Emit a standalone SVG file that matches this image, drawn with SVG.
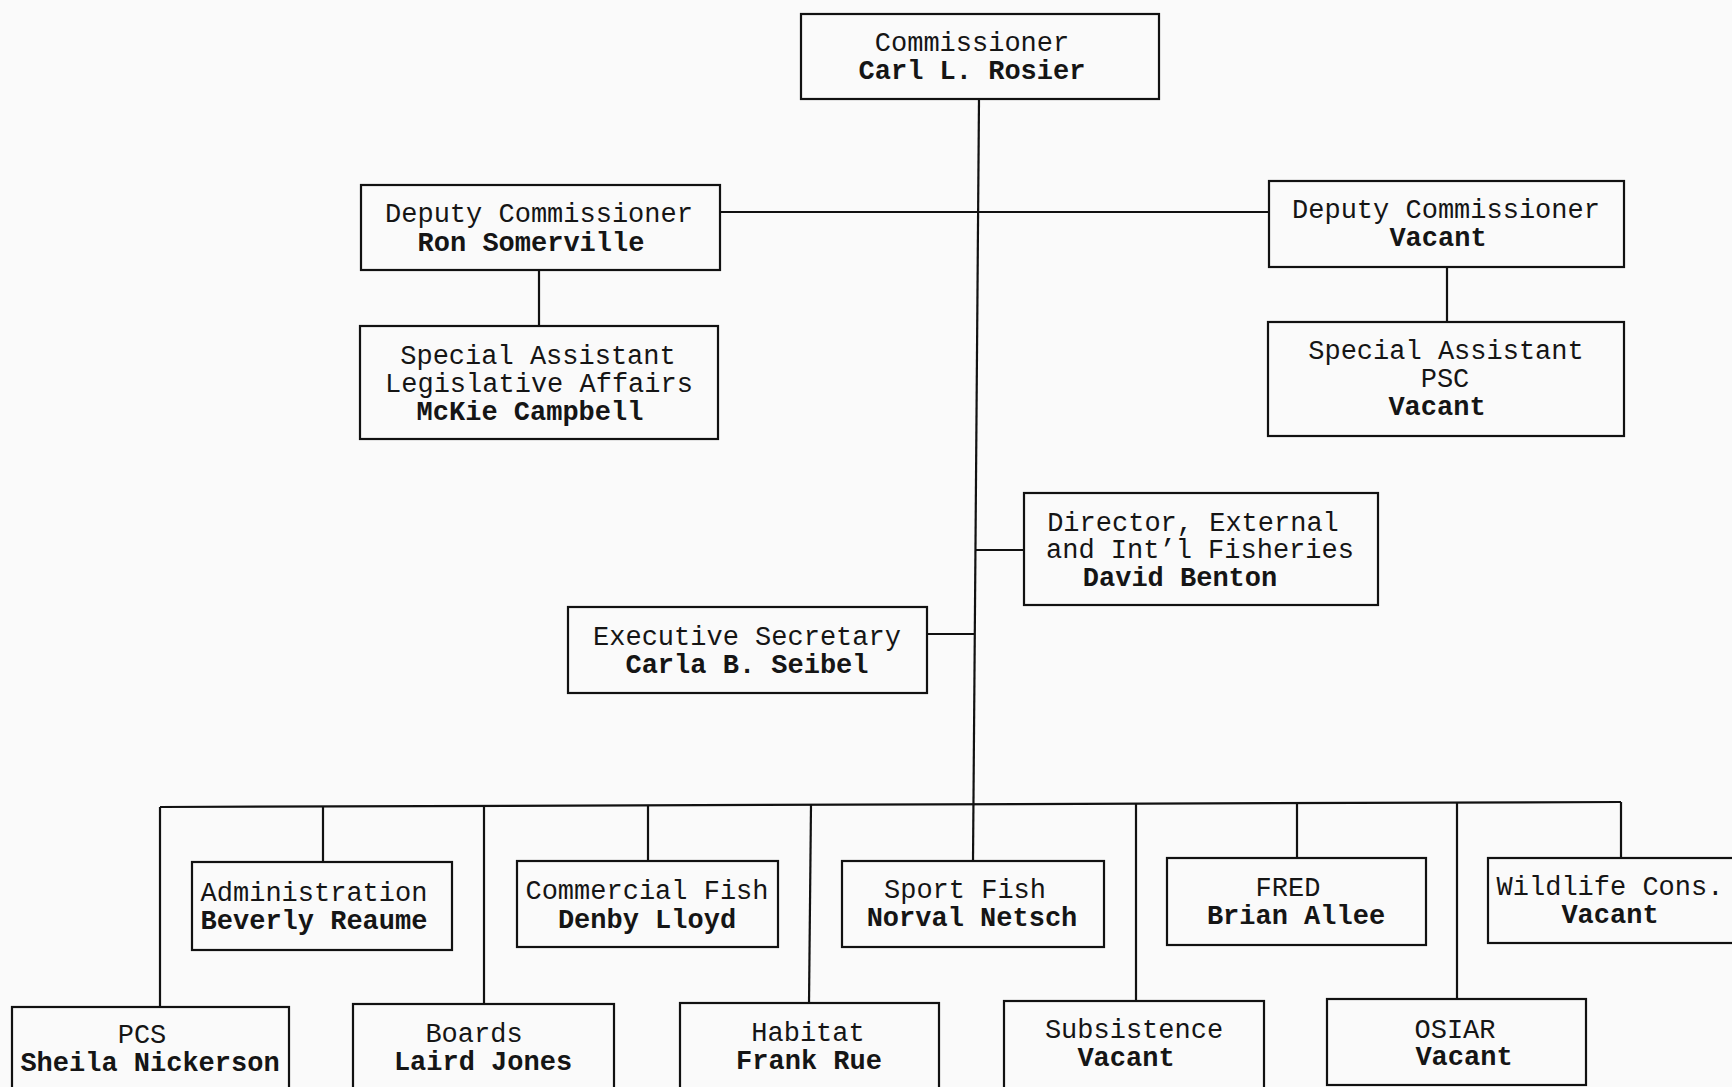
<svg xmlns="http://www.w3.org/2000/svg" width="1732" height="1087" viewBox="0 0 1732 1087">
<style>
.box{fill:none;stroke:#111;stroke-width:2.2}
.ln{fill:none;stroke:#111;stroke-width:2.2}
text{font-family:"Liberation Mono","Courier New",monospace;font-size:27px;fill:#151515;text-anchor:middle}
.b{font-weight:bold}
</style>
<rect x="0" y="0" width="1732" height="1087" fill="#fafafa"/>
<g id="connectors">
<path class="ln" d="M979 99 L973 861"/>
<path class="ln" d="M720 212 L1269 212"/>
<path class="ln" d="M539 270 L539 326"/>
<path class="ln" d="M1447 267 L1447 322"/>
<path class="ln" d="M976 550 L1024 550"/>
<path class="ln" d="M927 634 L975 634"/>
<path class="ln" d="M160 807 L1621 802"/>
<path class="ln" d="M160 807 L160 1007"/>
<path class="ln" d="M323 806 L323 862"/>
<path class="ln" d="M484 806 L484 1004"/>
<path class="ln" d="M648 806 L648 861"/>
<path class="ln" d="M811 805 L809 1003"/>
<path class="ln" d="M1136 804 L1136 1001"/>
<path class="ln" d="M1297 803 L1297 858"/>
<path class="ln" d="M1457 803 L1457 999"/>
<path class="ln" d="M1621 802 L1621 858"/>
</g>
<g id="commissioner"><rect class="box" x="801" y="14" width="358" height="85"/><text x="972" y="51">Commissioner</text><text class="b" x="972" y="79">Carl L. Rosier</text></g>
<g id="deputy-left"><rect class="box" x="361" y="185" width="359" height="85"/><text x="539" y="222">Deputy Commissioner</text><text class="b" x="531" y="251">Ron Somerville</text></g>
<g id="special-left"><rect class="box" x="360" y="326" width="358" height="113"/><text x="538" y="364">Special Assistant</text><text x="539" y="392">Legislative Affairs</text><text class="b" x="530" y="420">McKie Campbell</text></g>
<g id="deputy-right"><rect class="box" x="1269" y="181" width="355" height="86"/><text x="1446" y="218">Deputy Commissioner</text><text class="b" x="1438" y="246">Vacant</text></g>
<g id="special-right"><rect class="box" x="1268" y="322" width="356" height="114"/><text x="1446" y="359">Special Assistant</text><text x="1445" y="387">PSC</text><text class="b" x="1437" y="415">Vacant</text></g>
<g id="director"><rect class="box" x="1024" y="493" width="354" height="112"/><text x="1193" y="531">Director, External</text><text x="1200" y="558">and Int’l Fisheries</text><text class="b" x="1180" y="586">David Benton</text></g>
<g id="exec-secretary"><rect class="box" x="568" y="607" width="359" height="86"/><text x="747" y="645">Executive Secretary</text><text class="b" x="747" y="673">Carla B. Seibel</text></g>
<g id="administration"><rect class="box" x="192" y="862" width="260" height="88"/><text x="314" y="901">Administration</text><text class="b" x="314" y="929">Beverly Reaume</text></g>
<g id="commercial-fish"><rect class="box" x="517" y="861" width="261" height="86"/><text x="647" y="899">Commercial Fish</text><text class="b" x="647" y="928">Denby Lloyd</text></g>
<g id="sport-fish"><rect class="box" x="842" y="861" width="262" height="86"/><text x="965" y="898">Sport Fish</text><text class="b" x="972" y="926">Norval Netsch</text></g>
<g id="fred"><rect class="box" x="1167" y="858" width="259" height="87"/><text x="1288" y="896">FRED</text><text class="b" x="1296" y="924">Brian Allee</text></g>
<g id="wildlife"><rect class="box" x="1488" y="858" width="260" height="85"/><text x="1610" y="895">Wildlife Cons.</text><text class="b" x="1610" y="923">Vacant</text></g>
<g id="pcs"><rect class="box" x="12" y="1007" width="277" height="90"/><text x="142" y="1043">PCS</text><text class="b" x="150" y="1071">Sheila Nickerson</text></g>
<g id="boards"><rect class="box" x="353" y="1004" width="261" height="93"/><text x="474" y="1042">Boards</text><text class="b" x="483" y="1070">Laird Jones</text></g>
<g id="habitat"><rect class="box" x="680" y="1003" width="259" height="94"/><text x="808" y="1041">Habitat</text><text class="b" x="809" y="1069">Frank Rue</text></g>
<g id="subsistence"><rect class="box" x="1004" y="1001" width="260" height="96"/><text x="1134" y="1038">Subsistence</text><text class="b" x="1126" y="1066">Vacant</text></g>
<g id="osiar"><rect class="box" x="1327" y="999" width="259" height="86"/><text x="1455" y="1038">OSIAR</text><text class="b" x="1464" y="1065">Vacant</text></g>
</svg>
